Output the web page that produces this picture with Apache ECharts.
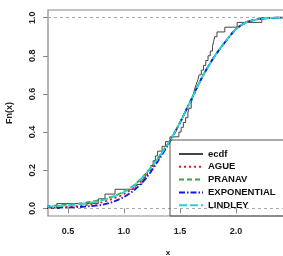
<!DOCTYPE html>
<html>
<head>
<meta charset="utf-8">
<script src="https://cdn.jsdelivr.net/npm/echarts@6/dist/echarts.min.js"></script>
<style>
  html, body { margin: 0; padding: 0; background: #fff; }
  #chart { width: 283px; height: 256px; }
</style>
</head>
<body>
<div id="chart"></div>
<script>
// sorted sample behind the ecdf (n = 40)
var sampleX = [0.40, 0.77, 0.83, 0.92, 1.10, 1.16, 1.19, 1.21, 1.24, 1.26,
               1.28, 1.30, 1.34, 1.37, 1.41, 1.49, 1.51, 1.53, 1.55, 1.57,
               1.58, 1.60, 1.61, 1.62, 1.63, 1.645, 1.66, 1.67, 1.69, 1.71,
               1.73, 1.75, 1.77, 1.79, 1.80, 1.81, 1.83, 1.90, 2.01, 2.23];

// fitted cdfs
var gridX     = [0.3, 0.4, 0.5, 0.6, 0.7, 0.8, 0.9, 1.0, 1.1, 1.2, 1.3, 1.4,
                 1.5, 1.6, 1.7, 1.8, 1.9, 2.0, 2.1, 2.2, 2.3, 2.4, 2.5];
var ague      = [0.003, 0.005, 0.008, 0.013, 0.020, 0.032, 0.050, 0.075, 0.115, 0.175, 0.255, 0.345,
                 0.45, 0.57, 0.69, 0.79, 0.87, 0.94, 0.978, 0.992, 0.998, 1.0, 1.0];
var pranav    = [0.012, 0.015, 0.020, 0.026, 0.034, 0.045, 0.063, 0.088, 0.127, 0.186, 0.26, 0.345,
                 0.45, 0.57, 0.69, 0.79, 0.87, 0.94, 0.978, 0.992, 0.998, 1.0, 1.0];
var expo      = [0.001, 0.002, 0.004, 0.007, 0.012, 0.018, 0.034, 0.060, 0.100, 0.160, 0.245, 0.340,
                 0.45, 0.57, 0.69, 0.79, 0.87, 0.94, 0.978, 0.992, 0.998, 1.0, 1.0];
var lindley   = [0.009, 0.012, 0.016, 0.022, 0.030, 0.042, 0.060, 0.085, 0.125, 0.185, 0.26, 0.345,
                 0.45, 0.57, 0.69, 0.79, 0.87, 0.94, 0.978, 0.992, 0.998, 1.0, 1.0];

var xTicks = [0.5, 1.0, 1.5, 2.0];
var yTicks = [0, 0.2, 0.4, 0.6, 0.8, 1.0];
var seriesNames = ['ecdf', 'AGUE', 'PRANAV', 'EXPONENTIAL', 'LINDLEY'];

var xMin = 0.3214, xMax = 2.464;

function pairs(xs, ys) {
  var out = [];
  for (var i = 0; i < xs.length; i++) out.push([xs[i], ys[i]]);
  return out;
}

// step points for the ecdf
var ecdfData = [[xMin - 0.1, 0]];
for (var i = 0; i < sampleX.length; i++) {
  ecdfData.push([sampleX[i], (i + 1) / sampleX.length]);
}
ecdfData.push([xMax + 0.1, 1]);

var myChart = echarts.init(document.getElementById('chart'), null, {renderer: 'canvas'});

var fontFam = '"Liberation Sans", Arial, sans-serif';

function curve(name, data, color, type, width) {
  return {
    name: name,
    type: 'line',
    data: data,
    smooth: 0.3,
    symbol: 'none',
    clip: true,
    lineStyle: { color: color, width: width, type: type },
    itemStyle: { color: color },
    z: 3
  };
}

var option = {
  animation: false,
  backgroundColor: '#fff',
  grid: {
    left: 48, top: 10, right: -5, bottom: 40,
    outerBoundsMode: 'none', containLabel: false,
    show: true, borderColor: '#888', borderWidth: 1.2
  },
  xAxis: {
    type: 'value',
    min: xMin,
    max: xMax,
    name: 'x',
    nameLocation: 'middle',
    nameGap: 33,
    nameTextStyle: { fontFamily: fontFam, fontSize: 8, fontWeight: 'bold', color: '#222' },
    axisLine: { show: false },
    splitLine: { show: false },
    axisTick: { show: true, length: 5, inside: false, customValues: xTicks, lineStyle: { color: '#888' } },
    axisLabel: {
      customValues: xTicks, margin: 11,
      formatter: function (v) { return v.toFixed(1); },
      fontFamily: fontFam, fontSize: 9, fontWeight: 'bold', color: '#222'
    }
  },
  yAxis: {
    type: 'value',
    min: -0.04,
    max: 1.04,
    name: 'Fn(x)',
    nameLocation: 'middle',
    nameGap: 34,
    nameRotate: 90,
    nameTextStyle: { fontFamily: fontFam, fontSize: 9, fontWeight: 'bold', color: '#222' },
    axisLine: { show: false },
    splitLine: { show: false },
    axisTick: { show: true, length: 5, inside: false, customValues: yTicks, lineStyle: { color: '#888' } },
    axisLabel: {
      customValues: yTicks, margin: 11, rotate: 90,
      formatter: function (v) { return v.toFixed(1); },
      fontFamily: fontFam, fontSize: 9, fontWeight: 'bold', color: '#222'
    }
  },
  legend: {
    orient: 'vertical',
    left: 178,
    top: 149,
    padding: 0,
    itemWidth: 24,
    itemHeight: 10,
    itemGap: 2.8,
    itemStyle: { opacity: 0 },
    data: seriesNames,
    textStyle: { fontFamily: fontFam, fontSize: 9.5, fontWeight: 'bold', color: '#111', lineHeight: 10 }
  },
  graphic: [{
    type: 'rect',
    shape: { x: 170, y: 140, width: 200, height: 76 },
    style: { fill: 'none', stroke: '#555', lineWidth: 1 },
    z: 10
  }],
  series: [
    {
      name: 'ecdf',
      type: 'line',
      data: ecdfData,
      step: 'end',
      symbol: 'none',
      clip: true,
      lineStyle: { color: '#444', width: 1 },
      itemStyle: { color: '#444' },
      z: 2,
      markLine: {
        silent: true,
        symbol: 'none',
        label: { show: false },
        lineStyle: { color: '#aaa', type: [3, 3], width: 1 },
        data: [{ yAxis: 0 }, { yAxis: 1 }]
      }
    },
    curve('AGUE', pairs(gridX, ague), '#e31a1c', [2, 3], 1.8),
    curve('PRANAV', pairs(gridX, pranav), '#3aa33a', [5, 3], 1.8),
    curve('EXPONENTIAL', pairs(gridX, expo), '#1515e0', [6, 2, 1.5, 2], 1.8),
    curve('LINDLEY', pairs(gridX, lindley), '#22d6d6', [8, 3], 1.8)
  ]
};

myChart.setOption(option);
</script>
</body>
</html>
